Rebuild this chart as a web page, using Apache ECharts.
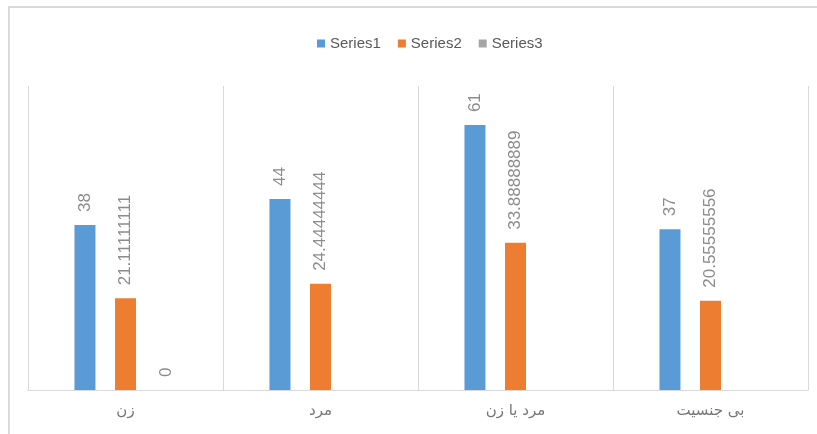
<!DOCTYPE html>
<html><head><meta charset="utf-8">
<script src="https://cdn.jsdelivr.net/npm/echarts@6/dist/echarts.min.js"></script>
<style>html,body{margin:0;padding:0;background:#fff}#c{width:817px;height:434px}</style>
</head><body><div id="c"></div>
<script>
const categories = ['زن', 'مرد', 'مرد یا زن', 'بی جنسیت'];
const series1 = [38, 44, 61, 37];
const series2 = [21.11111111, 24.44444444, 33.88888889, 20.55555556];
const series3 = [0, null, null, null];
const seriesNames = ['Series1', 'Series2', 'Series3'];

const chart = echarts.init(document.getElementById('c'));
const labelCfg = {
  show: true, position: 'top', rotate: 90, align: 'left', verticalAlign: 'middle',
  distance: 13, color: '#8c8c8c', fontSize: 17, fontFamily: 'Liberation Sans, Arial, sans-serif',
  formatter: p => p.value === null ? '' : String(p.value)
};
const colors = ['#5B9BD5', '#ED7D31', '#A5A5A5'];
const datas = [series1, series2, series3];
chart.setOption({
  animation: false,
  backgroundColor: '#fff',
  color: colors,
  graphic: [
    {type: 'line', shape: {x1: 8, y1: 7, x2: 817, y2: 7}, style: {stroke: '#d9d9d9', lineWidth: 2}},
    {type: 'line', shape: {x1: 9, y1: 6, x2: 9, y2: 434}, style: {stroke: '#d9d9d9', lineWidth: 2}}
  ],
  legend: {
    top: 31, left: 312, itemWidth: 8, itemHeight: 8, itemGap: 17,
    icon: 'rect',
    textStyle: {color: '#595959', fontSize: 15, fontFamily: 'Liberation Sans, sans-serif'},
    data: seriesNames
  },
  grid: {left: 28, right: 9, top: 86, bottom: 44, containLabel: false},
  xAxis: {
    type: 'category', data: categories,
    axisLine: {show: true, lineStyle: {color: '#d9d9d9', width: 1}},
    axisTick: {show: false},
    splitLine: {show: true, lineStyle: {color: '#d9d9d9', width: 1}},
    axisLabel: {color: '#767676', fontSize: 15, margin: 14, fontFamily: 'DejaVu Sans, sans-serif'}
  },
  yAxis: {
    type: 'value', min: 0, max: 70, interval: 10,
    show: false, splitLine: {show: false}
  },
  series: datas.map((d, i) => ({
    name: seriesNames[i], type: 'bar', data: d,
    barWidth: 21, barGap: '93%',
    itemStyle: {color: colors[i]},
    label: labelCfg
  }))
});
</script></body></html>
